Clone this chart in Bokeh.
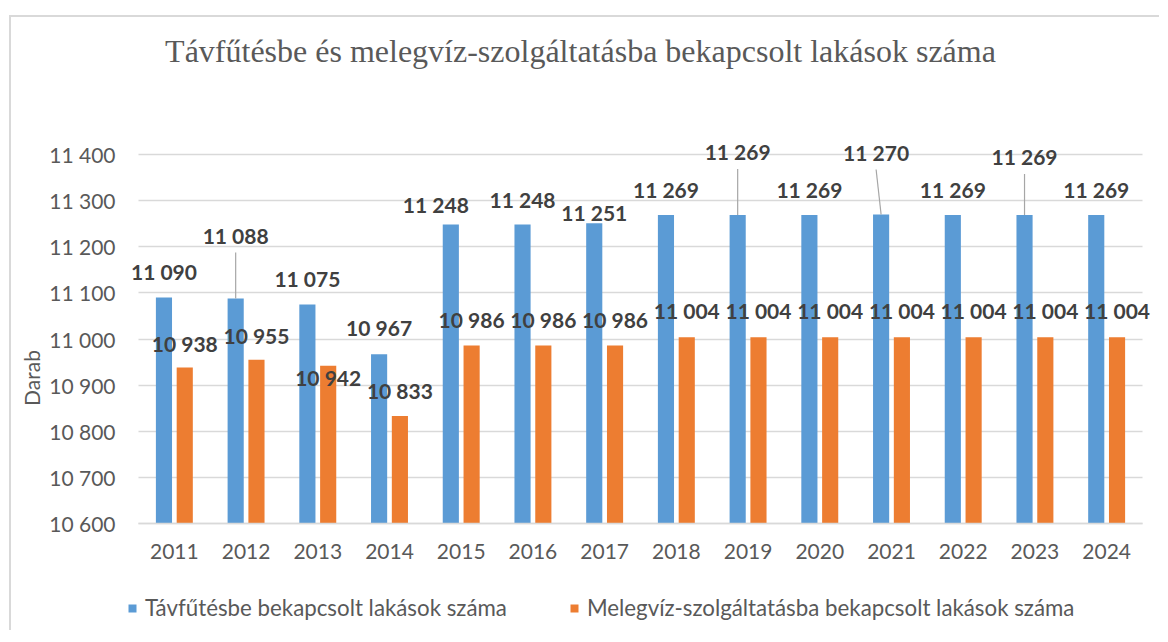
from bokeh.plotting import figure
from bokeh.models import (ColumnDataSource, FactorRange, Range1d, LabelSet, Legend,
                          LegendItem, FixedTicker, CategoricalAxis)
from bokeh.core.properties import value
from bokeh.transform import dodge
from bokeh.embed import file_html
from bokeh.resources import INLINE

# ---- data ----
years = ["2011", "2012", "2013", "2014", "2015", "2016", "2017",
         "2018", "2019", "2020", "2021", "2022", "2023", "2024"]
tavfutes = [11090, 11088, 11075, 10967, 11248, 11248, 11251,
            11269, 11269, 11269, 11270, 11269, 11269, 11269]
melegviz = [10938, 10955, 10942, 10833, 10986, 10986, 10986,
            11004, 11004, 11004, 11004, 11004, 11004, 11004]
y_ticks = [10600, 10700, 10800, 10900, 11000, 11100, 11200, 11300, 11400]
y_tick_labels = ["10 600", "10 700", "10 800", "10 900", "11 000",
                 "11 100", "11 200", "11 300", "11 400"]
series_names = ["Távfűtésbe bekapcsolt lakások száma",
                "Melegvíz-szolgáltatásba bekapcsolt lakások száma"]
title_text = "Távfűtésbe és melegvíz-szolgáltatásba bekapcsolt lakások száma"
y_title = "Darab"

# ---- label placement (pixels, style only) ----
blue_label_dy = [26, 63, 26, 27, 20, 25, 11, 25, 63, 25, 62, 25, 58, 25]
blue_label_dx = [0, 0, 0, 0, -15, 0, 0, 0, 0, 0, -5, 0, 0, 0]
orange_label_dy = [24, 24, -12, 26, 26, 26, 26, 27, 27, 27, 27, 27, 27, 27]

BLUE = "#5b9bd5"
ORANGE = "#ed7d31"
GRID = "#d9d9d9"
TXT = "#595959"
LBL = "#404040"
FONT = "Lato"

GRID_H = 369          # pixel height of the 10600..11400 band
GRID_W = 1004         # pixel width of the category band
EXTRA_TOP = 29        # frame space above the top gridline (for labels)
EXTRA_BOT = 107       # frame space below the axis (year labels + legend)
PAD_X = 11            # frame space left/right of the band (for labels)
FRAME_W = GRID_W + 2 * PAD_X
FRAME_H = GRID_H + EXTRA_TOP + EXTRA_BOT
Y0, Y1 = y_ticks[0], y_ticks[-1]
units_per_px = (Y1 - Y0) / GRID_H
Y_TOP = Y1 + EXTRA_TOP * units_per_px
Y_BOT = Y0 - EXTRA_BOT * units_per_px
cat_per_px = len(years) / GRID_W
OFF = 0.145
BW = 0.225
TITLE_SHIFT_NBSP = 15   # trailing no-break spaces: shift the centred title left


def fmt(v):
    return f"{v:,}".replace(",", " ")


src = ColumnDataSource(dict(
    year=years, tav=tavfutes, mel=melegviz,
    tav_txt=[fmt(v) for v in tavfutes], mel_txt=[fmt(v) for v in melegviz],
    bdy=blue_label_dy, bdx=blue_label_dx, ody=orange_label_dy,
))

xr = FactorRange(*years, range_padding=PAD_X * cat_per_px, range_padding_units="absolute")
p = figure(x_range=xr, y_range=Range1d(Y_BOT, Y_TOP),
           frame_width=FRAME_W, frame_height=FRAME_H,
           min_border_left=127 - PAD_X, min_border_right=17 - PAD_X,
           min_border_top=108, min_border_bottom=0,
           output_backend="svg", toolbar_location=None, tools="")
p.styles = {"border-left": "2px solid #d9d9d9", "border-top": "2px solid #d9d9d9",
            "margin-left": "9px", "margin-top": "15px"}
p.outline_line_color = None
p.background_fill_color = "white"
p.border_fill_color = "white"

b1 = p.vbar(x=dodge("year", -OFF, range=p.x_range), top="tav", bottom=Y0, width=BW,
            source=src, fill_color=BLUE, line_color=None)
b2 = p.vbar(x=dodge("year", OFF, range=p.x_range), top="mel", bottom=Y0, width=BW,
            source=src, fill_color=ORANGE, line_color=None)

# leader lines for labels pulled away from their bars
for i, dy in enumerate(blue_label_dy):
    if dy > 40:
        s = ColumnDataSource(dict(year=[years[i]], y0=[tavfutes[i]],
                                  y1=[tavfutes[i] + (dy - 17) * units_per_px]))
        p.segment(x0=dodge("year", -OFF, range=p.x_range), y0="y0",
                  x1=dodge("year", -OFF + blue_label_dx[i] * cat_per_px, range=p.x_range),
                  y1="y1", source=s, line_color="#a6a6a6", line_width=1.2)

lab_common = dict(text_font=value(FONT), text_font_size=value("21px"),
                  text_font_style="bold", text_color=LBL,
                  text_align="center", text_baseline="middle")
p.add_layout(LabelSet(x=dodge("year", -OFF, range=p.x_range), y="tav", text="tav_txt",
                      x_offset="bdx", y_offset="bdy", source=src, **lab_common))
p.add_layout(LabelSet(x=dodge("year", OFF, range=p.x_range), y="mel", text="mel_txt",
                      y_offset="ody", source=src, **lab_common))

# axes / grid
p.xgrid.grid_line_color = None
p.ygrid.grid_line_color = GRID
p.ygrid.grid_line_width = 1.5
p.ygrid.cross_bounds = (0, len(years))
p.yaxis.ticker = FixedTicker(ticks=y_ticks)
p.yaxis.bounds = (Y0, Y1)
p.yaxis.major_label_overrides = {t: l for t, l in zip(y_ticks, y_tick_labels)}
p.yaxis.axis_line_color = None
p.yaxis.major_tick_line_color = None
p.yaxis.minor_tick_line_color = None
p.yaxis.major_tick_out = 0
p.yaxis.major_tick_in = 0
p.yaxis.minor_tick_out = 0
p.yaxis.major_label_standoff = 23 - PAD_X
p.yaxis.major_label_text_font = FONT
p.yaxis.major_label_text_font_size = "21px"
p.yaxis.major_label_text_color = TXT
p.yaxis.axis_label = y_title
p.yaxis.axis_label_text_font = FONT
p.yaxis.axis_label_text_font_size = "21px"
p.yaxis.axis_label_text_font_style = "normal"
p.yaxis.axis_label_text_color = TXT
p.yaxis.axis_label_standoff = 2

xaxis = p.below[0]
xaxis.fixed_location = Y0
xaxis.bounds = (0, len(years))
xaxis.axis_line_color = GRID
xaxis.axis_line_width = 1.5
xaxis.major_tick_line_color = None
xaxis.minor_tick_line_color = None
xaxis.major_tick_out = 0
xaxis.major_tick_in = 0
xaxis.major_label_standoff = 20
xaxis.major_label_text_font = FONT
xaxis.major_label_text_font_size = "21px"
xaxis.major_label_text_color = TXT

# chart title drawn as the label of an otherwise empty axis above the frame
title_axis = CategoricalAxis(ticker=FixedTicker(ticks=[]), axis_line_color=None,
                             major_tick_out=0, major_tick_in=0, major_label_standoff=0,
                             axis_label=title_text + "\u00a0" * TITLE_SHIFT_NBSP,
                             axis_label_standoff=57,
                             axis_label_text_font="Liberation Serif",
                             axis_label_text_font_size="32px",
                             axis_label_text_font_style="normal",
                             axis_label_text_color=TXT)
p.add_layout(title_axis, "above")

legend = Legend(items=[LegendItem(label=series_names[0], renderers=[b1]),
                       LegendItem(label=series_names[1], renderers=[b2])],
                orientation="horizontal", location=(0, 9),
                glyph_width=10, glyph_height=10, label_standoff=8, spacing=62,
                padding=0, margin=0, border_line_color=None, background_fill_alpha=0,
                label_text_font=FONT, label_text_font_size="22.3px", label_text_color=TXT,
                label_height=20)
p.add_layout(legend, "center")

open("out.html", "w").write(file_html(p, INLINE))
